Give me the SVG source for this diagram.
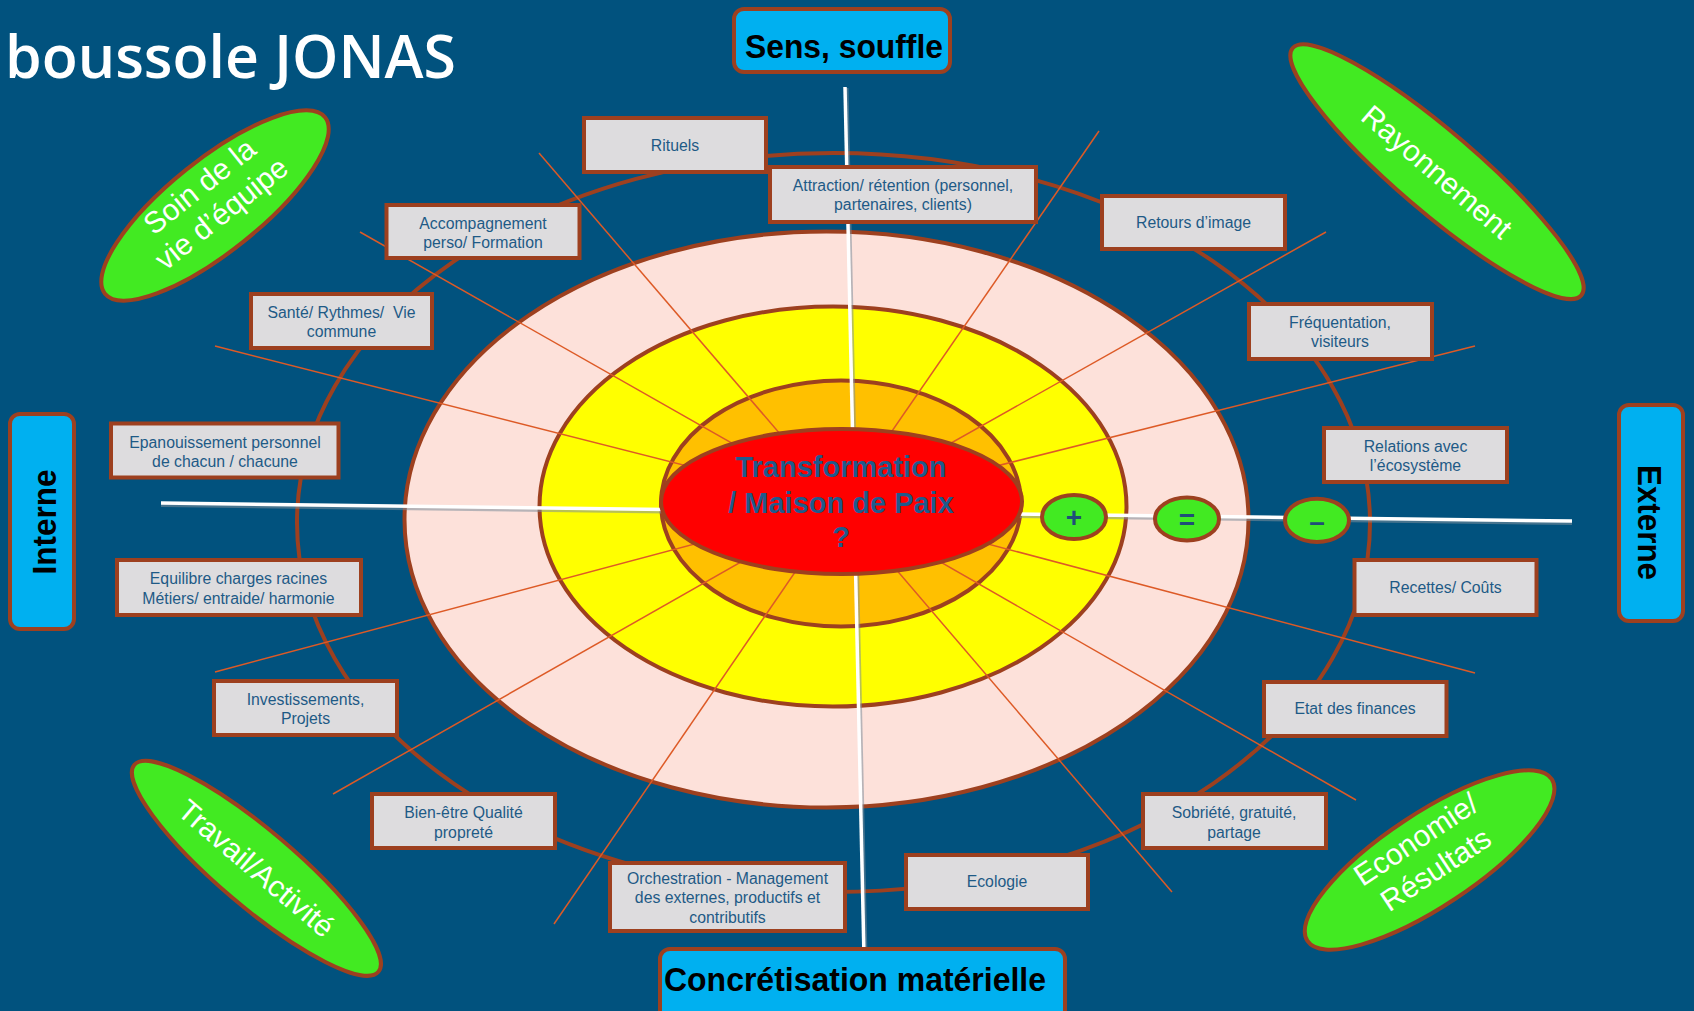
<svg xmlns="http://www.w3.org/2000/svg" width="1694" height="1011" viewBox="0 0 1694 1011">
<style>
.box rect{fill:#DDDCDE;stroke:#9D401F;stroke-width:4}
.box text{font-family:"Liberation Sans",Arial,sans-serif;font-size:15.8px;fill:#1E5A86;text-anchor:middle}
.oval ellipse{fill:#42EA22;stroke:#9D401F;stroke-width:4}
.oval text{font-family:"Liberation Sans",Arial,sans-serif;font-size:30px;fill:#fff;text-anchor:middle}
.side rect{fill:#00B0F0;stroke:#9D401F;stroke-width:4}
.side text{font-family:"Liberation Sans",Arial,sans-serif;font-weight:bold;font-size:34px;fill:#000;text-anchor:middle}
.ring{fill:none;stroke:#9D401F;stroke-width:4}
.ray{stroke:#DD5A26;stroke-width:1.5}
.axis{stroke:#fff;stroke-width:3.5;fill:none}
.axsh{stroke:#7d8e9a;stroke-width:3;opacity:.55;fill:none}
.sign ellipse{fill:#42EA22;stroke:#9D401F;stroke-width:4}
.sign text{font-family:"Liberation Sans",Arial,sans-serif;font-weight:bold;font-size:28px;fill:#1F4E79;text-anchor:middle}
</style>
<rect x="0" y="0" width="1694" height="1011" fill="#01527E"/>
<text x="5" y="78" font-family="'Open Sans','Noto Sans',sans-serif" font-weight="600" font-size="60" fill="#fff" textLength="451" lengthAdjust="spacingAndGlyphs">boussole JONAS</text>

<g id="rings">
<ellipse class="ring" cx="833.5" cy="522.5" rx="536.5" ry="369.5"/>
<ellipse cx="826.5" cy="519.5" rx="422" ry="288" fill="#FDE1DA" stroke="#9D401F" stroke-width="4"/>
<ellipse cx="833" cy="506.5" rx="293.5" ry="200" fill="#FFFF00" stroke="#9D401F" stroke-width="4"/>
<ellipse cx="841" cy="503.5" rx="180" ry="123" fill="#FFC000" stroke="#9D401F" stroke-width="4"/>
</g>

<g id="connectors">
<line class="ray" x1="539" y1="153" x2="841" y2="505"/>
<line class="ray" x1="360" y1="232" x2="841" y2="505"/>
<line class="ray" x1="215" y1="346" x2="841" y2="505"/>
<line class="ray" x1="215" y1="672" x2="841" y2="505"/>
<line class="ray" x1="333" y1="794" x2="841" y2="505"/>
<line class="ray" x1="554" y1="924" x2="841" y2="505"/>
<line class="ray" x1="1172" y1="892" x2="841" y2="505"/>
<line class="ray" x1="1356" y1="800" x2="841" y2="505"/>
<line class="ray" x1="1475" y1="673" x2="841" y2="505"/>
<line class="ray" x1="1475" y1="346" x2="841" y2="505"/>
<line class="ray" x1="1326" y1="232" x2="841" y2="505"/>
<line class="ray" x1="1099" y1="131" x2="841" y2="505"/>
<line class="axsh" x1="847" y1="88" x2="866" y2="958"/>
<line class="axsh" x1="161" y1="505.5" x2="1572" y2="523.5"/>
<line class="axis" x1="845" y1="87" x2="864" y2="957"/>
<line class="axis" x1="161" y1="503" x2="1572" y2="521"/>
</g>

<g id="center">
<ellipse cx="841.5" cy="501.5" rx="180.5" ry="72.5" fill="#FF0000" stroke="#9D401F" stroke-width="4"/>
<g font-family="'Liberation Sans',Arial,sans-serif" font-weight="bold" font-size="29" fill="#1F5A8C" text-anchor="middle">
<text x="841" y="477">Transformation</text>
<text x="841" y="513">/ Maison de Paix</text>
<text x="841" y="547">?</text>
</g>
</g>

<g id="plus" class="sign"><ellipse cx="1074" cy="517" rx="32" ry="22"/><text x="1074" y="527">+</text></g>
<g id="egal" class="sign"><ellipse cx="1187" cy="519" rx="32" ry="21.5"/><text x="1187" y="529">=</text></g>
<g id="moins" class="sign"><ellipse cx="1317" cy="520.3" rx="32" ry="21.6"/><text x="1317" y="531">–</text></g>

<g id="sens" class="side"><rect x="734" y="9" width="216" height="63" rx="10"/><text x="844" y="58" textLength="198" lengthAdjust="spacingAndGlyphs">Sens, souffle</text></g>
<g id="concretisation" class="side"><rect x="660" y="949" width="405" height="85" rx="10"/><text x="855" y="991" textLength="382" lengthAdjust="spacingAndGlyphs">Concrétisation matérielle</text></g>
<g id="interne" class="side"><rect x="10" y="414" width="64" height="215" rx="10"/><text transform="translate(55.5,522) rotate(-90)" textLength="105" lengthAdjust="spacingAndGlyphs">Interne</text></g>
<g id="externe" class="side"><rect x="1619" y="405" width="64" height="216" rx="10"/><text transform="translate(1638,522.5) rotate(90)" textLength="115" lengthAdjust="spacingAndGlyphs">Externe</text></g>

<g id="soin" class="oval" transform="translate(215,205.5) rotate(-38.7)"><ellipse rx="141" ry="46"/><text y="-14.5">Soin de la</text><text y="20.5">vie d’équipe</text></g>
<g id="rayonnement" class="oval" transform="translate(1437,171.7) rotate(40.6)"><ellipse rx="190" ry="40"/><text y="10.5">Rayonnement</text></g>
<g id="travail" class="oval" transform="translate(256.4,868.3) rotate(40.3)"><ellipse rx="160" ry="38"/><text y="10.5">Travail/Activité</text></g>
<g id="economie" class="oval" transform="translate(1429.6,860) rotate(-33.5)"><ellipse rx="146.5" ry="46.5"/><text y="-14.5">Economie/</text><text y="21.5">Résultats</text></g>

<g id="rituels" class="box"><rect x="584" y="118" width="182" height="54"/><text x="675" y="151">Rituels</text></g>
<g id="attraction" class="box"><rect x="770" y="167" width="266" height="55"/><text x="903" y="190.5">Attraction/ rétention (personnel,</text><text x="903" y="209.5">partenaires, clients)</text></g>
<g id="retours" class="box"><rect x="1102" y="196" width="183" height="53"/><text x="1193.5" y="228">Retours d’image</text></g>
<g id="frequentation" class="box"><rect x="1249" y="304" width="183" height="55"/><text x="1340" y="328">Fréquentation,</text><text x="1340" y="347">visiteurs</text></g>
<g id="relations" class="box"><rect x="1324" y="428" width="183" height="54"/><text x="1415.5" y="452">Relations avec</text><text x="1415.5" y="470.5">l’écosystème</text></g>
<g id="recettes" class="box"><rect x="1354.5" y="560" width="182" height="55"/><text x="1445.5" y="593">Recettes/ Coûts</text></g>
<g id="etat" class="box"><rect x="1264" y="682" width="182.5" height="54"/><text x="1355" y="714">Etat des finances</text></g>
<g id="sobriete" class="box"><rect x="1143" y="794" width="183" height="54"/><text x="1234" y="818">Sobriété, gratuité,</text><text x="1234" y="838">partage</text></g>
<g id="ecologie" class="box"><rect x="906" y="855" width="182" height="54"/><text x="997" y="887">Ecologie</text></g>
<g id="orchestration" class="box"><rect x="610" y="863" width="235" height="68"/><text x="727.5" y="883.5">Orchestration - Management</text><text x="727.5" y="903">des externes, productifs et</text><text x="727.5" y="922.5">contributifs</text></g>
<g id="bienetre" class="box"><rect x="372" y="794" width="183" height="54"/><text x="463.5" y="818">Bien-être Qualité</text><text x="463.5" y="838">propreté</text></g>
<g id="investissements" class="box"><rect x="214" y="681" width="183" height="54"/><text x="305.5" y="704.5">Investissements,</text><text x="305.5" y="723.5">Projets</text></g>
<g id="equilibre" class="box"><rect x="117" y="560" width="244" height="55"/><text x="238.5" y="583.5">Equilibre charges racines</text><text x="238.5" y="603.5">Métiers/ entraide/ harmonie</text></g>
<g id="epanouissement" class="box"><rect x="111" y="423.5" width="227.5" height="54"/><text x="225" y="447.5">Epanouissement personnel</text><text x="225" y="467">de chacun / chacune</text></g>
<g id="sante" class="box"><rect x="251" y="294" width="181" height="54"/><text x="341.5" y="318" xml:space="preserve">Santé/ Rythmes/  Vie</text><text x="341.5" y="336.5">commune</text></g>
<g id="accompagnement" class="box"><rect x="386.5" y="205" width="193" height="53"/><text x="483" y="228.5">Accompagnement</text><text x="483" y="248">perso/ Formation</text></g>
</svg>
